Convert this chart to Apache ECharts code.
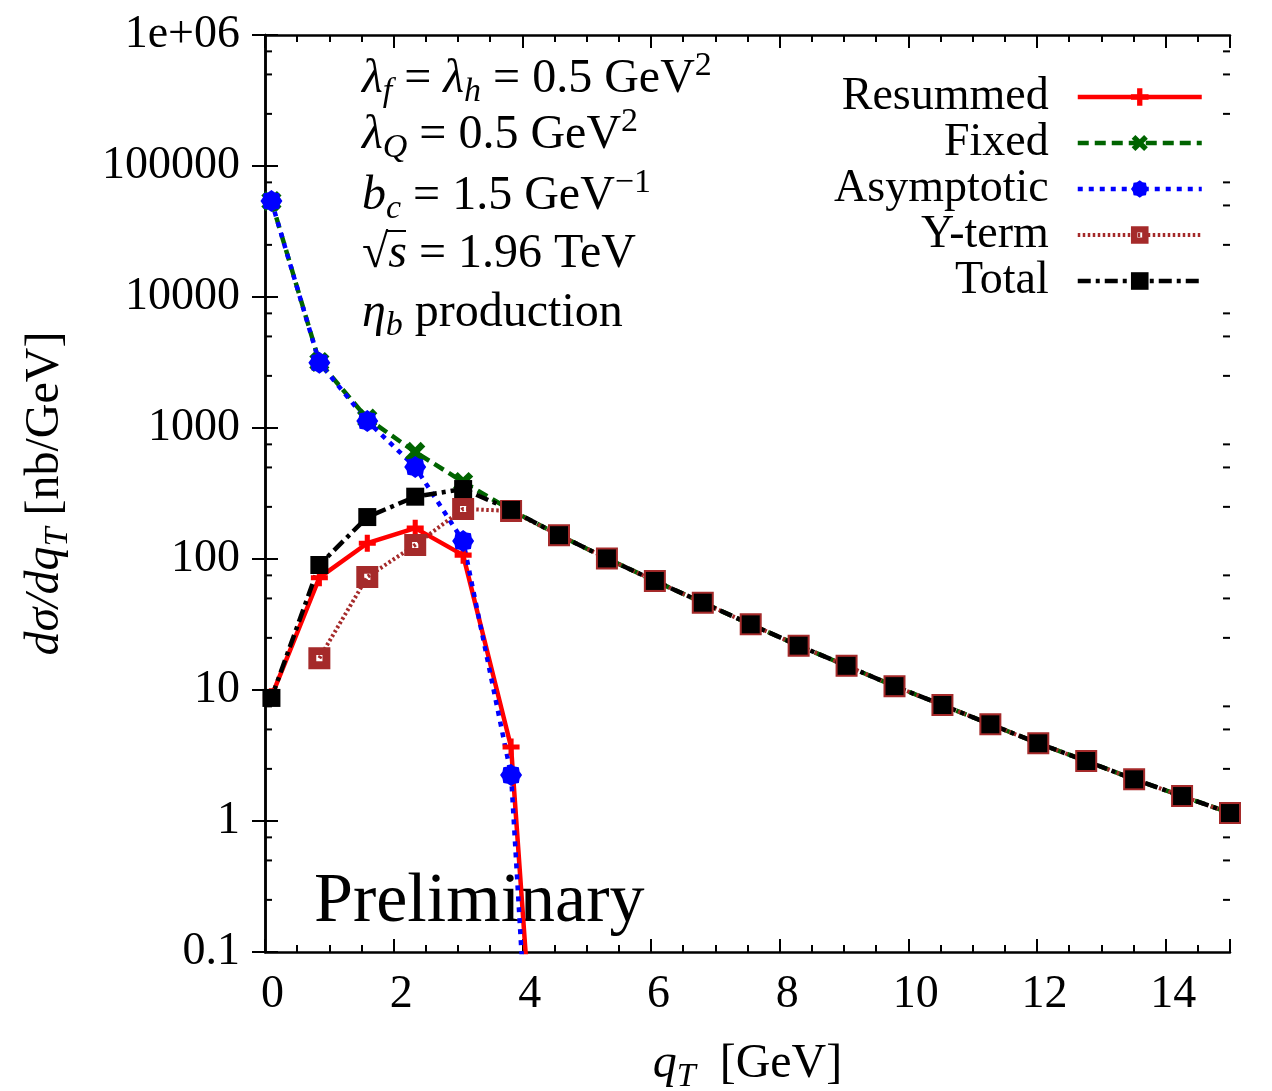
<!DOCTYPE html>
<html>
<head>
<meta charset="utf-8">
<script src="https://cdn.jsdelivr.net/npm/echarts@6/dist/echarts.min.js"></script>
<style>
html,body{margin:0;padding:0;background:#fff;}
#chart{width:1272px;height:1091px;}
</style>
</head>
<body>
<div id="chart"></div>
<script>
// ---- data ----
var qT = [0.1, 0.845, 1.59, 2.335, 3.08, 3.825, 4.57, 5.315, 6.06, 6.805, 7.55, 8.295, 9.04, 9.785, 10.53, 11.275, 12.02, 12.765, 13.51, 14.255, 15.0];
var resummed  = [8.9, 72, 132, 172, 107, 3.67, 2.4e-5, null, null, null, null, null, null, null, null, null, null, null, null, null, null];
var fixed     = [54000, 3190, 1180, 656, 387, 236, 152, 101, 68, 46.4, 31.7, 21.8, 15.3, 10.7, 7.68, 5.47, 3.92, 2.87, 2.08, 1.55, 1.15];
var asymptotic= [54000, 3150, 1130, 504, 137, 2.24, 1.3e-6, null, null, null, null, null, null, null, null, null, null, null, null, null, null];
var yterm     = [null, 17.5, 73, 128, 241, 233, 152, 101, 68, 46.4, 31.7, 21.8, 15.3, 10.7, 7.68, 5.47, 3.92, 2.87, 2.08, 1.55, 1.15];
var total     = [8.7, 90, 209, 299, 342, 237, 152, 101, 68, 46.4, 31.7, 21.8, 15.3, 10.7, 7.68, 5.47, 3.92, 2.87, 2.08, 1.55, 1.15];
var seriesNames = ['Resummed', 'Fixed', 'Asymptotic', 'Y-term', 'Total'];
var yTickValues = [0.1, 1, 10, 100, 1000, 10000, 100000, 1000000];
var yTickLabels = ['0.1', '1', '10', '100', '1000', '10000', '100000', '1e+06'];
var yMinorMantissa = [2.5, 5, 7.5];
var xTickInterval = 2;

var yMinor = [];
for (var d = 0; d < yTickValues.length - 1; d++) {
  for (var m = 0; m < yMinorMantissa.length; m++) {
    yMinor.push([0, +(yTickValues[d] * yMinorMantissa[m]).toPrecision(6)]);
  }
}
function pairs(arr) { return qT.map(function (x, i) { return [x, arr[i]]; }); }

var FONT = '"Liberation Serif", "DejaVu Serif", serif';
var FS = 46;
var AFS = 48;

var plusPath = 'path://M3.5,0H6.5V3.5H10V6.5H6.5V10H3.5V6.5H0V3.5H3.5Z';
var starPath = 'path://M10,5L8.88,6.61L8.54,8.54L6.61,8.88L5,10L3.39,8.88L1.46,8.54L1.12,6.61L0,5L1.12,3.39L1.46,1.46L3.39,1.12L5,0L6.61,1.12L8.54,1.46L8.88,3.39Z';
var hollowSq = 'path://M0,0H10V10H0Z M3.6,3.6V6.4H6.4V3.6Z';

var colors = {Resummed: '#ff0000', Fixed: '#006400', Asymptotic: '#0000ff', 'Y-term': '#a52a2a', Total: '#000000'};
var dashes = {Resummed: 'solid', Fixed: [11, 6], Asymptotic: [5, 6], 'Y-term': [2.5, 2.5], Total: [13, 5, 4, 5]};
var widths = {Resummed: 4.5, Fixed: 4.5, Asymptotic: 4.5, 'Y-term': 4, Total: 4.5};

var chart = echarts.init(document.getElementById('chart'), null, {renderer: 'canvas'});

function mkRich(fs) {
  return {
    t: {fontFamily: FONT, fontSize: fs, color: '#000', lineHeight: 60, verticalAlign: 'middle'},
    g: {fontFamily: FONT, fontSize: fs, color: '#000', fontStyle: 'italic', lineHeight: 60, verticalAlign: 'middle'},
    s: {fontFamily: FONT, fontSize: Math.round(fs * 0.7), color: '#000', fontStyle: 'italic', lineHeight: 26, verticalAlign: 'bottom'},
    p: {fontFamily: FONT, fontSize: Math.round(fs * 0.7), color: '#000', lineHeight: 26, verticalAlign: 'top'}
  };
}
var richA = mkRich(AFS);
var richN = mkRich(48);

function label(text, x, y) {
  return {type: 'text', x: x, y: y, z: 1, silent: true,
    style: {text: text, rich: richA, align: 'left', verticalAlign: 'middle', font: AFS + 'px ' + FONT}};
}

var option = {
  backgroundColor: '#fff',
  animation: false,
  grid: {left: 265, right: 42, top: 35, bottom: 139, containLabel: false, outerBoundsMode: 'none'},
  xAxis: [{
    type: 'value', min: 0, max: 15, interval: xTickInterval, position: 'bottom',
    name: '{g|q}{s|T}{t|  [GeV]}', nameLocation: 'middle', nameGap: 82,
    nameTextStyle: {rich: richN},
    axisLine: {show: true, lineStyle: {color: '#000', width: 2.5}},
    axisTick: {inside: true, length: 13, lineStyle: {color: '#000', width: 2}},
    minorTick: {show: true, splitNumber: 4, length: 7, lineStyle: {color: '#000', width: 2}},
    axisLabel: {fontFamily: FONT, fontSize: FS, color: '#000', margin: 20, padding: [0, 0, 0, 15],
      showMaxLabel: false,
      formatter: function (v) { return (v % xTickInterval === 0) ? String(v) : ''; }},
    splitLine: {show: false}
  }, {
    type: 'value', min: 0, max: 15, interval: xTickInterval, position: 'top',
    axisLine: {show: true, lineStyle: {color: '#000', width: 2.5}},
    axisTick: {inside: true, length: 13, lineStyle: {color: '#000', width: 2}},
    minorTick: {show: true, splitNumber: 4, length: 7, lineStyle: {color: '#000', width: 2}},
    axisLabel: {show: false}, splitLine: {show: false}
  }],
  yAxis: [{
    type: 'log', logBase: 10, min: 0.1, max: 1000000, splitNumber: 7, position: 'left',
    name: '{g|dσ/dq}{s|T}{t| [nb/GeV]}', nameLocation: 'middle', nameGap: 190, nameRotate: 90,
    nameTextStyle: {rich: richN},
    axisLine: {show: true, lineStyle: {color: '#000', width: 2.5}},
    axisTick: {inside: true, length: 13, lineStyle: {color: '#000', width: 2}},
    axisLabel: {fontFamily: FONT, fontSize: FS, color: '#000', margin: 25,
      formatter: function (v) {
        for (var i = 0; i < yTickValues.length; i++) {
          if (Math.abs(Math.log10(v) - Math.log10(yTickValues[i])) < 1e-6) return yTickLabels[i];
        }
        return '';
      }},
    splitLine: {show: false}
  }, {
    type: 'log', logBase: 10, min: 0.1, max: 1000000, splitNumber: 7, position: 'right',
    axisLine: {show: true, lineStyle: {color: '#000', width: 2.5}},
    axisTick: {inside: true, length: 13, lineStyle: {color: '#000', width: 2}},
    axisLabel: {show: false}, splitLine: {show: false}
  }],
  legend: {
    data: seriesNames.map(function (n) {
      return {name: n, lineStyle: {width: widths[n], type: dashes[n], color: colors[n]}};
    }),
    orient: 'vertical', align: 'right', right: 63, top: 69,
    itemWidth: 124, itemHeight: 22, itemGap: 0, selectedMode: false,
    textStyle: {fontFamily: FONT, fontSize: FS, color: '#000', lineHeight: 46, padding: [0, 24, 0, 0]}
  },
  graphic: [
    label('{g|λ}{s|f}{t| = }{g|λ}{s|h}{t| = 0.5 GeV}{p|2}', 362, 79),
    label('{g|λ}{s|Q}{t| = 0.5 GeV}{p|2}', 362, 135),
    label('{g|b}{s|c}{t| = 1.5 GeV}{p|−1}', 362, 196),
    label('{t|√}{g|s}{t| = 1.96 TeV}', 362, 254),
    {type: 'line', z: 1, silent: true, shape: {x1: 386, y1: 231, x2: 406, y2: 231}, style: {stroke: '#000', lineWidth: 2}},
    label('{g|η}{s|b}{t| production}', 362, 313),
    {type: 'text', x: 314, y: 903, z: 1, silent: true,
      style: {text: 'Preliminary', font: '70px ' + FONT, fill: '#000', align: 'left', verticalAlign: 'middle'}}
  ],
  series: [
    {name: 'Resummed', type: 'line', data: pairs(resummed),
      symbol: plusPath, symbolSize: 17, showAllSymbol: true,
      lineStyle: {color: colors.Resummed, width: widths.Resummed, type: dashes.Resummed},
      itemStyle: {color: colors.Resummed}},
    {name: 'Fixed', type: 'line', data: pairs(fixed),
      symbol: plusPath, symbolRotate: 45, symbolSize: 22, showAllSymbol: true,
      lineStyle: {color: colors.Fixed, width: widths.Fixed, type: dashes.Fixed},
      itemStyle: {color: colors.Fixed}},
    {name: 'Asymptotic', type: 'line', data: pairs(asymptotic),
      symbol: starPath, symbolSize: 22, showAllSymbol: true,
      lineStyle: {color: colors.Asymptotic, width: widths.Asymptotic, type: dashes.Asymptotic},
      itemStyle: {color: colors.Asymptotic}},
    {name: 'Y-term', type: 'line', data: pairs(yterm),
      symbol: hollowSq, symbolSize: 22, showAllSymbol: true,
      lineStyle: {color: colors['Y-term'], width: widths['Y-term'], type: dashes['Y-term']},
      itemStyle: {color: colors['Y-term']}},
    {name: 'Total', type: 'line', data: pairs(total),
      symbol: 'rect', symbolSize: 18, showAllSymbol: true,
      lineStyle: {color: colors.Total, width: widths.Total, type: dashes.Total},
      itemStyle: {color: colors.Total}},
    {name: 'minorY', type: 'custom', data: yMinor, silent: true, z: 3,
      encode: {x: 0, y: 1},
      renderItem: function (params, api) {
        var y = api.coord([0, api.value(1)])[1];
        var cs = params.coordSys;
        return {type: 'group', children: [
          {type: 'line', shape: {x1: cs.x, y1: y, x2: cs.x + 7, y2: y}, style: {stroke: '#000', lineWidth: 2}},
          {type: 'line', shape: {x1: cs.x + cs.width, y1: y, x2: cs.x + cs.width - 7, y2: y}, style: {stroke: '#000', lineWidth: 2}}
        ]};
      }}
  ]
};
chart.setOption(option);
</script>
</body>
</html>
